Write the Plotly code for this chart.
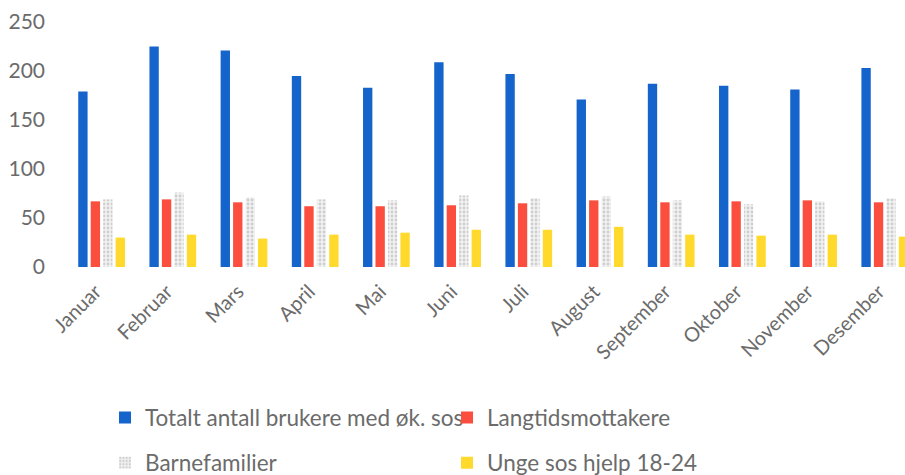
import plotly.graph_objects as go

months = ["Januar", "Februar", "Mars", "April", "Mai", "Juni", "Juli",
          "August", "September", "Oktober", "November", "Desember"]
totalt = [179, 225, 221, 195, 183, 209, 197, 171, 187, 185, 181, 203]
langtid = [67, 69, 66, 62, 62, 63, 65, 68, 66, 67, 68, 66]
barnefam = [69, 76, 71, 69, 68, 73, 70, 72, 68, 64, 67, 70]
unge = [30, 33, 29, 33, 35, 38, 38, 41, 33, 32, 33, 31]
y_ticks = [0, 50, 100, 150, 200, 250]

names = ["Totalt antall brukere med øk. sos", "Langtidsmottakere",
         "Barnefamilier", "Unge sos hjelp 18-24"]

FONT = "Lato"
TXT = "#6b6b6b"

fig = go.Figure()
fig.add_trace(go.Bar(x=months, y=totalt, name=names[0],
                     marker=dict(color="#1464cc", line=dict(width=0)),
                     legend="legend"))
fig.add_trace(go.Bar(x=months, y=langtid, name=names[1],
                     marker=dict(color="#fb4e3e", line=dict(width=0)),
                     legend="legend"))
fig.add_trace(go.Bar(x=months, y=barnefam, name=names[2],
                     marker=dict(color="#ffffff", line=dict(width=0),
                                 pattern=dict(shape=".", fgcolor="#aaaaaa",
                                              bgcolor="#f2f2f2", size=4,
                                              solidity=0.4)),
                     legend="legend2"))
fig.add_trace(go.Bar(x=months, y=unge, name=names[3],
                     marker=dict(color="#ffd92c", line=dict(width=0)),
                     legend="legend2"))

fig.update_layout(
    width=905, height=475,
    margin=dict(l=66, r=0, t=22, b=208, autoexpand=False),
    paper_bgcolor="white", plot_bgcolor="white",
    barmode="group", bargap=0.3, bargroupgap=0.25,
    font=dict(family=FONT, color=TXT, size=18),
    xaxis=dict(range=[-0.5, 11.284], tickangle=-45, showgrid=False,
               showline=False, ticks="", automargin=False,
               ticklabelstandoff=8, ticklabelshift=-6,
               tickfont=dict(size=20, color=TXT, family=FONT)),
    yaxis=dict(range=[0, 250], tickvals=y_ticks, showgrid=False,
               zeroline=False, showline=False, ticks="",
               ticklabelstandoff=20, automargin=False,
               tickfont=dict(size=21, color=TXT, family=FONT)),
    legend=dict(orientation="h", x=0.0465, xanchor="left", y=-0.616,
                yanchor="middle", entrywidth=297, traceorder="normal",
                font=dict(size=22.5, color=TXT, family=FONT),
                bgcolor="rgba(0,0,0,0)"),
    legend2=dict(orientation="h", x=0.0465, xanchor="left", y=-0.80,
                 yanchor="middle", entrywidth=297, traceorder="normal",
                 font=dict(size=22.5, color=TXT, family=FONT),
                 bgcolor="rgba(0,0,0,0)"),
)

fig.write_html("out.html",
               config={"displayModeBar": False},
               post_script="document.body.style.margin='0';"
                           "document.body.style.overflow='hidden';")
